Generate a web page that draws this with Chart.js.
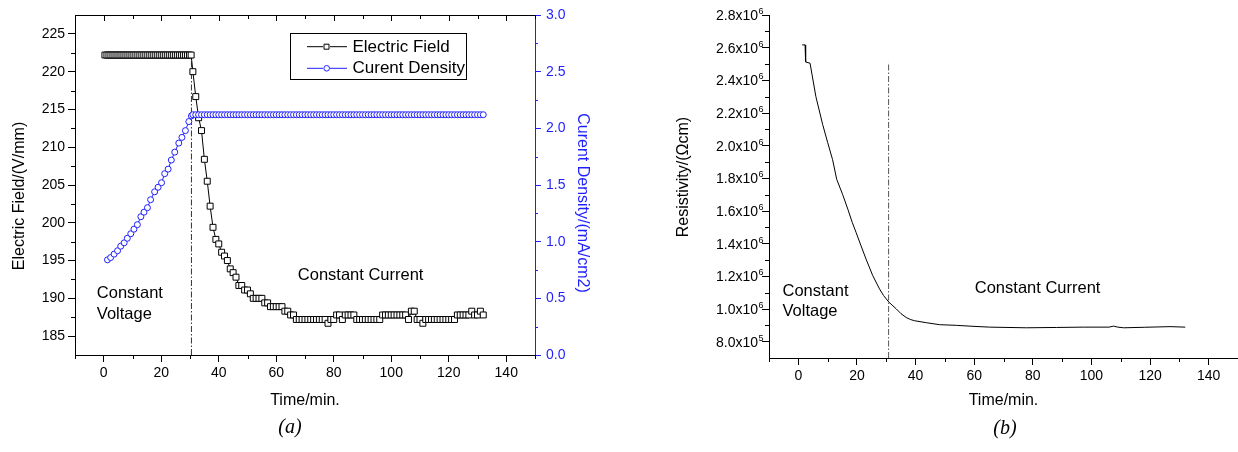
<!DOCTYPE html>
<html>
<head>
<meta charset="utf-8">
<script src="https://cdn.jsdelivr.net/npm/chart.js@4.4.0/dist/chart.umd.min.js"></script>
<style>
  body { margin: 0; background: #fff; }
  #wrap { position: relative; width: 1238px; height: 452px; overflow: hidden; }
  canvas { position: absolute; top: 0; }
  #chartA { left: 0; }
  #chartB { left: 619px; }
  .cap { position: absolute; font: italic 20px 'Liberation Serif', 'Times New Roman', serif; transform: translate(-50%, -50%); color: #000; }
</style>
</head>
<body>
<div id="wrap">
  <canvas id="chartA" width="619" height="452"></canvas>
  <canvas id="chartB" width="619" height="452"></canvas>
  <div class="cap" style="left:290px;top:426px">(a)</div>
  <div class="cap" style="left:1005px;top:427px">(b)</div>
</div>
<script>
// ---- (a) electric field / current density ----
// constant voltage part, electric field (dense sampling)
const eCvTime = [0.4, 1.1, 1.8, 2.5, 3.2, 3.9, 4.6, 5.3, 6.0, 6.7, 7.4,
  8.1, 8.8, 9.5, 10.2, 10.9, 11.6, 12.3, 13.0, 13.7, 14.4, 15.1,
  15.8, 16.5, 17.2, 17.9, 18.6, 19.3, 20.0, 20.7, 21.4, 22.1, 22.8,
  23.5, 24.2, 24.9, 25.6, 26.3, 27.0, 27.7, 28.4, 29.1, 29.8, 30.4];
const eCvField = [222.2, 222.2, 222.2, 222.2, 222.2, 222.2, 222.2, 222.2, 222.2, 222.2, 222.2,
  222.2, 222.2, 222.2, 222.2, 222.2, 222.2, 222.2, 222.2, 222.2, 222.2, 222.2,
  222.2, 222.2, 222.2, 222.2, 222.2, 222.2, 222.2, 222.2, 222.2, 222.2, 222.2,
  222.2, 222.2, 222.2, 222.2, 222.2, 222.2, 222.2, 222.2, 222.2, 222.2, 222.2];

// constant voltage part, current density
const jCvTime = [1.3, 2.4, 3.6, 4.8, 5.9, 7.1, 8.2, 9.4, 10.5, 11.7, 12.9, 14.0, 15.2,
  16.3, 17.7, 18.9, 20.1, 21.2, 22.4, 23.5, 24.7, 26.1, 27.2, 28.4, 29.6, 30.5];
const jCvDensity = [0.84, 0.86, 0.89, 0.92, 0.96, 0.99, 1.03, 1.07, 1.11, 1.15, 1.22, 1.26, 1.30,
  1.37, 1.44, 1.48, 1.52, 1.60, 1.64, 1.72, 1.79, 1.87, 1.92, 1.98, 2.06, 2.11];

// constant current part (one sample per minute)
const ccTime = [31, 32, 33, 34, 35, 36, 37, 38, 39, 40,
  41, 42, 43, 44, 45, 46, 47, 48, 49, 50,
  51, 52, 53, 54, 55, 56, 57, 58, 59, 60,
  61, 62, 63, 64, 65, 66, 67, 68, 69, 70,
  71, 72, 73, 74, 75, 76, 77, 78, 79, 80,
  81, 82, 83, 84, 85, 86, 87, 88, 89, 90,
  91, 92, 93, 94, 95, 96, 97, 98, 99, 100,
  101, 102, 103, 104, 105, 106, 107, 108, 109, 110,
  111, 112, 113, 114, 115, 116, 117, 118, 119, 120,
  121, 122, 123, 124, 125, 126, 127, 128, 129, 130,
  131, 132];
const ccField = [220.0, 216.7, 213.9, 212.2, 208.4, 205.5, 202.2, 199.4, 197.8, 197.2,
  196.1, 195.6, 195.0, 193.9, 193.4, 192.8, 191.7, 191.7, 191.1, 191.1,
  190.6, 190.0, 190.0, 190.0, 190.0, 189.4, 189.4, 188.9, 188.9, 188.9,
  188.9, 188.9, 188.3, 188.3, 187.8, 187.8, 187.2, 187.2, 187.2, 187.2,
  187.2, 187.2, 187.2, 187.2, 187.2, 187.2, 187.2, 186.7, 187.2, 187.2,
  187.8, 187.8, 187.2, 187.8, 187.8, 187.8, 187.8, 187.2, 187.2, 187.2,
  187.2, 187.2, 187.2, 187.2, 187.2, 187.2, 187.8, 187.8, 187.8, 187.8,
  187.8, 187.8, 187.8, 187.8, 187.8, 187.2, 188.3, 188.3, 187.2, 187.2,
  186.7, 187.2, 187.2, 187.2, 187.2, 187.2, 187.2, 187.2, 187.2, 187.2,
  187.2, 187.2, 187.8, 187.8, 187.8, 187.8, 187.8, 188.3, 187.8, 187.8,
  188.3, 187.8];
const ccDensity = [2.12, 2.12, 2.12, 2.12, 2.12, 2.12, 2.12, 2.12, 2.12, 2.12,
  2.12, 2.12, 2.12, 2.12, 2.12, 2.12, 2.12, 2.12, 2.12, 2.12,
  2.12, 2.12, 2.12, 2.12, 2.12, 2.12, 2.12, 2.12, 2.12, 2.12,
  2.12, 2.12, 2.12, 2.12, 2.12, 2.12, 2.12, 2.12, 2.12, 2.12,
  2.12, 2.12, 2.12, 2.12, 2.12, 2.12, 2.12, 2.12, 2.12, 2.12,
  2.12, 2.12, 2.12, 2.12, 2.12, 2.12, 2.12, 2.12, 2.12, 2.12,
  2.12, 2.12, 2.12, 2.12, 2.12, 2.12, 2.12, 2.12, 2.12, 2.12,
  2.12, 2.12, 2.12, 2.12, 2.12, 2.12, 2.12, 2.12, 2.12, 2.12,
  2.12, 2.12, 2.12, 2.12, 2.12, 2.12, 2.12, 2.12, 2.12, 2.12,
  2.12, 2.12, 2.12, 2.12, 2.12, 2.12, 2.12, 2.12, 2.12, 2.12,
  2.12, 2.12];

// mode switch marker
const switchTimeA = [30.5, 30.5];
const switchFieldA = [182.5, 222.2];

// ---- (b) resistivity ----
const rhoTime = [1.3, 2.3, 2.5, 4.0, 6.0, 8.3, 10.0, 11.7, 13.1, 15.1,
  16.9, 18.4, 19.7, 21.4, 23.1, 25.4, 27.7, 29.1, 30.9, 33.4,
  35.0, 36.8, 38.2, 39.7, 43.7, 48.2, 53.9, 59.6, 65.3, 77.8, 88.0, 97.2,
  106.0, 107.5, 109.0, 111.0, 118.0, 126.8, 132.0];
const rhoValue = [2.617e6, 2.617e6, 2.512e6, 2.505e6, 2.300e6, 2.130e6, 2.020e6, 1.914e6, 1.794e6, 1.702e6,
  1.611e6, 1.530e6, 1.469e6, 1.387e6, 1.306e6, 1.204e6, 1.123e6, 1.082e6, 1.042e6, 1.001e6,
  0.972e6, 0.948e6, 0.936e6, 0.928e6, 0.916e6, 0.904e6, 0.900e6, 0.894e6, 0.889e6, 0.885e6, 0.887e6, 0.889e6,
  0.889e6, 0.895e6, 0.889e6, 0.885e6, 0.888e6, 0.892e6, 0.889e6];
const switchTimeB = [30.8, 30.8];
const switchRhoB = [0.7e6, 2.51e6];

// ---- ticks ----
const xTicks = [0, 20, 40, 60, 80, 100, 120, 140];
const xMinor = [-10, 10, 30, 50, 70, 90, 110, 130, 150];
const fieldTicks = [185, 190, 195, 200, 205, 210, 215, 220, 225];
const fieldMinor = [187.5, 192.5, 197.5, 202.5, 207.5, 212.5, 217.5, 222.5];
const densityTicks = [0, 0.5, 1.0, 1.5, 2.0, 2.5, 3.0];
const densityMinor = [0.25, 0.75, 1.25, 1.75, 2.25, 2.75];
const rhoTicks = [8e5, 1.0e6, 1.2e6, 1.4e6, 1.6e6, 1.8e6, 2.0e6, 2.2e6, 2.4e6, 2.6e6, 2.8e6];
const rhoMinor = [9e5, 1.1e6, 1.3e6, 1.5e6, 1.7e6, 1.9e6, 2.1e6, 2.3e6, 2.5e6, 2.7e6];

const FONT = "'Liberation Sans', Arial, Helvetica, sans-serif";
const BLUE = '#1f1fff';
Chart.defaults.font.family = FONT;
Chart.defaults.color = '#000';

const pts = (xs, ys) => xs.map((x, i) => ({ x: x, y: ys[i] }));
const setTicks = list => scale => { scale.ticks = list.map(v => ({ value: v })); };

// mantissa and exponent for the "2.8x10^6" labels
function sciParts(v) {
  const e = Math.floor(Math.log10(v) + 1e-9);
  return { m: (v / Math.pow(10, e)).toFixed(1) + 'x10', e: String(e) };
}

// minor ticks, frame, legend, notes, sci labels and rotated titles
const extras = {
  id: 'extras',
  afterDraw(chart, args, o) {
    const ctx = chart.ctx, a = chart.chartArea;
    ctx.save();
    ctx.lineWidth = 1;
    (o.minor || []).forEach(m => {
      const s = chart.scales[m.axis];
      ctx.strokeStyle = m.color || '#000';
      ctx.beginPath();
      m.values.forEach(v => {
        const p = Math.round(s.getPixelForValue(v)) + 0.5;
        if (m.side === 'bottom') { ctx.moveTo(p, a.bottom); ctx.lineTo(p, a.bottom + m.len); }
        if (m.side === 'top') { ctx.moveTo(p, a.top); ctx.lineTo(p, a.top + m.len); }
        if (m.side === 'left') { ctx.moveTo(a.left, p); ctx.lineTo(a.left - m.len, p); }
        if (m.side === 'right') { ctx.moveTo(a.right, p); ctx.lineTo(a.right + m.len, p); }
      });
      ctx.stroke();
    });
    if (o.topBorder) {
      ctx.strokeStyle = '#000';
      ctx.beginPath();
      ctx.moveTo(a.left, Math.round(a.top) + 0.5);
      ctx.lineTo(a.right, Math.round(a.top) + 0.5);
      ctx.stroke();
    }
    if (o.sciLabels) {
      const S = o.sciLabels, s = chart.scales[S.axis];
      ctx.fillStyle = '#000';
      S.values.forEach(v => {
        const y = s.getPixelForValue(v);
        const p = sciParts(v);
        ctx.font = S.size + 'px ' + FONT;
        ctx.textAlign = 'right';
        ctx.textBaseline = 'middle';
        ctx.fillText(p.m, a.left - S.gap, y + 1);
        ctx.font = S.supSize + 'px ' + FONT;
        ctx.textAlign = 'left';
        ctx.fillText(p.e, a.left - S.gap + 0.5, y - 3.5);
      });
    }
    if (o.legend) {
      const L = o.legend, x0 = a.left + L.x, y0 = a.top + L.y;
      ctx.strokeStyle = '#000';
      ctx.strokeRect(Math.round(x0) + 0.5, Math.round(y0) + 0.5, L.w, L.h);
      ctx.font = L.font + 'px ' + FONT;
      ctx.textBaseline = 'middle';
      ctx.textAlign = 'left';
      L.rows.forEach(r => {
        const ds = chart.data.datasets[r.dataset];
        const yy = y0 + r.dy;
        const c = ds.borderColor;
        ctx.strokeStyle = c;
        ctx.beginPath();
        ctx.moveTo(x0 + 17, yy); ctx.lineTo(x0 + 33, yy);
        ctx.moveTo(x0 + 40, yy); ctx.lineTo(x0 + 57, yy);
        ctx.stroke();
        ctx.beginPath();
        if (ds.pointStyle === 'rect') ctx.rect(x0 + 34, yy - 2.5, 5, 5);
        else ctx.arc(x0 + 36.7, yy, 2.8, 0, Math.PI * 2);
        ctx.fillStyle = '#fff'; ctx.fill(); ctx.stroke();
        ctx.fillStyle = '#000';
        ctx.fillText(ds.label, x0 + 62.5, yy + 0.5);
      });
    }
    (o.notes || []).forEach(n => {
      const x = chart.scales.x.getPixelForValue(n.x);
      const y = chart.scales[n.yAxis].getPixelForValue(n.y);
      ctx.font = n.size + 'px ' + FONT;
      ctx.fillStyle = '#000';
      ctx.textAlign = 'left';
      ctx.textBaseline = 'middle';
      n.lines.forEach((t, i) => ctx.fillText(t, x, y + i * n.lh));
    });
    (o.titles || []).forEach(t => {
      ctx.save();
      ctx.translate(t.x, t.y);
      ctx.rotate(t.rot * Math.PI / 180);
      ctx.font = t.size + 'px ' + FONT;
      ctx.fillStyle = t.color;
      ctx.textAlign = 'center';
      ctx.textBaseline = 'middle';
      ctx.fillText(t.text, 0, 0);
      ctx.restore();
    });
    ctx.restore();
  }
};

function xScale(h) {
  return {
    type: 'linear', min: -10, max: 150,
    afterBuildTicks: setTicks(xTicks),
    afterFit: s => { s.height = h; },
    grid: { drawOnChartArea: false, tickLength: 7, tickColor: '#000' },
    border: { color: '#000', width: 1 },
    ticks: { padding: 3, color: '#000', font: { size: 14 }, maxRotation: 0, autoSkip: false },
    title: { display: true, text: 'Time/min.', color: '#000', font: { size: 16 }, padding: { top: 0, bottom: 42 } }
  };
}

new Chart(document.getElementById('chartA'), {
  type: 'line',
  data: {
    datasets: [
      {
        label: 'Curent Density', data: [...pts(jCvTime, jCvDensity), ...pts(ccTime, ccDensity)],
        yAxisID: 'y1', borderColor: BLUE, borderWidth: 1, tension: 0,
        pointStyle: 'circle', pointRadius: 3, pointBorderColor: BLUE, pointBackgroundColor: '#fff', pointBorderWidth: 1,
        order: 0
      },
      {
        label: 'Electric Field', data: [...pts(eCvTime, eCvField), ...pts(ccTime, ccField)],
        yAxisID: 'y', borderColor: '#000', borderWidth: 1, tension: 0,
        pointStyle: 'rect', pointRadius: 4.2, pointBorderColor: '#000', pointBackgroundColor: '#fff', pointBorderWidth: 1,
        order: 1
      },
      {
        label: 'switch', data: pts(switchTimeA, switchFieldA), yAxisID: 'y',
        borderColor: '#333', borderWidth: 1, borderDash: [6, 2, 1.5, 2], pointRadius: 0, order: 2
      }
    ]
  },
  options: {
    responsive: false, animation: false,
    layout: { padding: { top: 15, left: 0, right: 0, bottom: 0 } },
    plugins: {
      legend: { display: false }, tooltip: { enabled: false },
      extras: {
        topBorder: true,
        minor: [
          { axis: 'x', values: xMinor, side: 'bottom', len: 4 },
          { axis: 'x', values: xTicks, side: 'top', len: 6 },
          { axis: 'x', values: xMinor, side: 'top', len: 4 },
          { axis: 'y', values: fieldMinor, side: 'left', len: 4 },
          { axis: 'y1', values: densityMinor, side: 'right', len: 3, color: BLUE }
        ],
        legend: { x: 215, y: 18.3, w: 176, h: 46, font: 17,
          rows: [{ dataset: 1, dy: 13.4 }, { dataset: 0, dy: 35 }] },
        notes: [
          { lines: ['Constant', 'Voltage'], x: -2.4, y: 190.6, yAxis: 'y', lh: 21, size: 16.5 },
          { lines: ['Constant Current'], x: 67.5, y: 193.0, yAxis: 'y', lh: 21, size: 16.5 }
        ],
        titles: [
          { text: 'Electric Field/(V/mm)', x: 20, y: 196, rot: -90, size: 16, color: '#000' },
          { text: 'Curent Density/(mA/cm2)', x: 582, y: 203, rot: 90, size: 16, color: BLUE }
        ]
      }
    },
    scales: {
      x: xScale(97),
      y: {
        type: 'linear', position: 'left', min: 182.5, max: 227.5,
        afterBuildTicks: setTicks(fieldTicks),
        afterFit: s => { s.width = 75; },
        grid: { drawOnChartArea: false, tickLength: 7, tickColor: '#000' },
        border: { color: '#000', width: 1 },
        ticks: { padding: 3, color: '#000', font: { size: 14 } }
      },
      y1: {
        type: 'linear', position: 'right', min: 0, max: 3,
        afterBuildTicks: setTicks(densityTicks),
        afterFit: s => { s.width = 84; },
        grid: { drawOnChartArea: false, tickLength: 6, tickColor: BLUE },
        border: { color: BLUE, width: 1 },
        ticks: { padding: 5, color: BLUE, font: { size: 14 }, callback: v => v.toFixed(1) }
      }
    }
  },
  plugins: [extras]
});

new Chart(document.getElementById('chartB'), {
  type: 'line',
  data: {
    datasets: [
      {
        label: 'Resistivity', data: pts(rhoTime, rhoValue),
        borderColor: '#000', borderWidth: 1, tension: 0, pointRadius: 0
      },
      {
        label: 'switch', data: pts(switchTimeB, switchRhoB),
        borderColor: '#555', borderWidth: 1, borderDash: [6, 2, 1.5, 2], pointRadius: 0
      }
    ]
  },
  options: {
    responsive: false, animation: false,
    layout: { padding: { top: 15, left: 0, right: 0, bottom: 0 } },
    plugins: {
      legend: { display: false }, tooltip: { enabled: false },
      extras: {
        minor: [
          { axis: 'x', values: xMinor, side: 'bottom', len: 4 },
          { axis: 'y', values: rhoMinor, side: 'left', len: 4 }
        ],
        sciLabels: { axis: 'y', values: rhoTicks, size: 14, supSize: 9, gap: 11 },
        notes: [
          { lines: ['Constant', 'Voltage'], x: -5.4, y: 1.107e6, yAxis: 'y', lh: 19.6, size: 16.5 },
          { lines: ['Constant Current'], x: 60.2, y: 1.123e6, yAxis: 'y', lh: 20, size: 16.5 }
        ],
        titles: [
          { text: 'Resistivity/(Ωcm)', x: 65, y: 177, rot: -90, size: 16, color: '#000' }
        ]
      }
    },
    scales: {
      x: xScale(94),
      y: {
        type: 'linear', position: 'left', min: 7e5, max: 2.8e6,
        afterBuildTicks: setTicks(rhoTicks),
        afterFit: s => { s.width = 150; },
        grid: { drawOnChartArea: false, tickLength: 7, tickColor: '#000' },
        border: { color: '#000', width: 1 },
        ticks: { display: false }
      }
    }
  },
  plugins: [extras]
});
</script>
</body>
</html>
